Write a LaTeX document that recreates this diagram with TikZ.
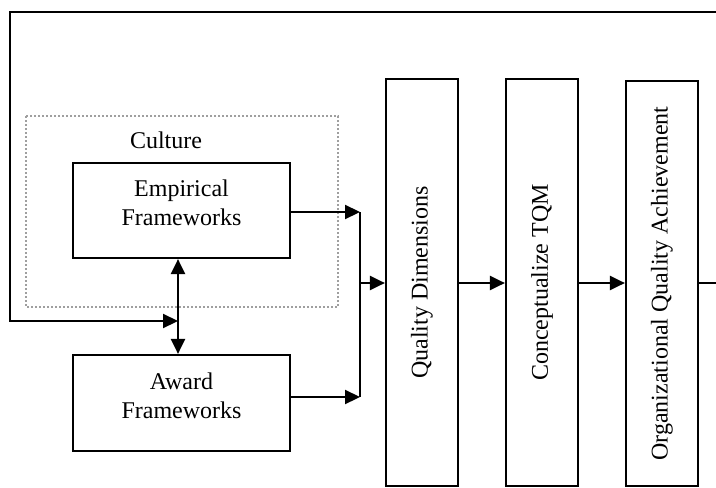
\documentclass[tikz,border=0pt]{standalone}
\usepackage{fontspec}
\setmainfont{Liberation Serif}
\usetikzlibrary{arrows.meta}

\begin{document}
\begin{tikzpicture}[x=0.5pt, y=-0.5pt,
    line width=1.1pt,
    arr/.style={-{Triangle[length=7.5pt, width=7pt]}},
    arrboth/.style={{Triangle[length=7.5pt, width=7pt]}-{Triangle[length=7.5pt, width=7pt]}},
    fwbox/.style={draw, minimum width=108.5pt, minimum height=47.5pt, inner sep=0pt},
    stagebox/.style={draw, rotate=90, minimum width=203.5pt, minimum height=36pt, inner sep=0pt,
      font=\fontsize{12}{14.5}\selectfont},
    txt/.style={inner sep=0pt, align=center, font=\fontsize{12}{14.5}\selectfont},
    culturebox/.style={draw=gray!75, line width=0.6pt, dash pattern=on 1pt off 1pt}]
  \useasboundingbox (0,0) rectangle (716,487);
  % culture region
  \draw[culturebox] (26,116) rectangle (338,307);
  \node[txt] (culture) at (166,140) {Culture};
  % framework boxes
  \node[fwbox] (emp) at (181.5,210.5) {};
  \node[txt] (emptxt) at (181.5,202.5) {Empirical\\Frameworks};
  \node[fwbox, minimum height=48pt] (award) at (181.5,403) {};
  \node[txt] (awardtxt) at (181.5,395.5) {Award\\Frameworks};
  % stages
  \node[stagebox] (qd) at (422,282.5) {Quality Dimensions};
  \node[stagebox] (ct) at (542,282.5) {Conceptualize TQM};
  \node[stagebox, minimum width=202.5pt] (oqa) at (662,283.5) {Organizational Quality Achievement};
  % helper points
  \coordinate (tr) at (716,12);
  \coordinate (tl) at (10,12);
  \coordinate (bl) at (10,321);
  \coordinate (fb) at (178,321);
  \coordinate (j1) at (360,212);
  \coordinate (j2) at (360,397);
  \coordinate (j0) at (360,283);
  \coordinate (out) at (731,283);
  % feedback loop
  \draw[arr] (tr) -- (tl) -- (bl) -- (fb);
  \draw[arrboth] (emp.south -| fb) -- (award.north -| fb);
  % into quality dimensions
  \draw[arr] (emp.east |- j1) -- (j1);
  \draw[arr] (award.east |- j2) -- (j2);
  \draw (j1) -- (j2);
  \draw[arr] (j0) -- (qd.north |- j0);
  \draw[arr] (qd.south |- j0) -- (ct.north |- j0);
  \draw[arr] (ct.south |- j0) -- (oqa.north |- j0);
  \draw[arr] (oqa.south |- j0) -- (out);
\end{tikzpicture}
\end{document}
